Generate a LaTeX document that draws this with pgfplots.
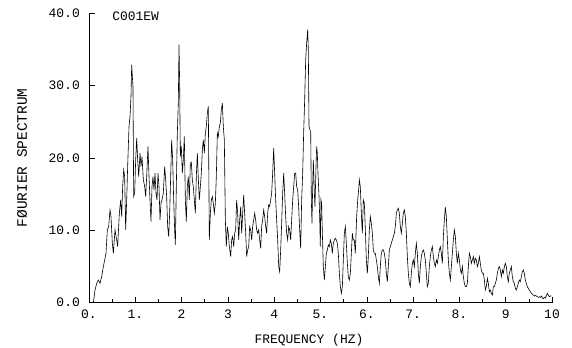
\documentclass[border=0pt]{standalone}
\usepackage{fontspec}
\setmainfont{Liberation Mono}
\usepackage{pgfplots}
\pgfplotsset{compat=1.18}
\begin{document}
\begin{tikzpicture}
\path[use as bounding box] (-89bp,-45.3bp) rectangle (483bp,302.7bp);
\begin{axis}[
  scale only axis,
  width=463bp, height=289.7bp,
  xmin=0, xmax=10, ymin=0, ymax=40,
  axis lines=left,
  axis line style={-, line width=0.7pt},
  x axis line style={line width=1.1pt},
  clip=false,
  tick align=inside,
  xtick={0,1,...,10},
  xticklabels={0.,1.,2,3,4,5.,6.,7.,8.,9,10},
  minor xtick={0.5,1.5,...,9.5},
  ytick={0,10,20,30,40},
  yticklabels={0.0,10.0,20.0,30.0,40.0},
  major tick length=6bp,
  minor tick length=4bp,
  tick style={line width=0.6pt, black},
  every tick label/.append style={font=\fontsize{13}{15}\selectfont},
  every x tick label/.append style={inner sep=0pt, yshift=-7bp},
  every y tick label/.append style={inner sep=0pt, xshift=-9bp},
  xlabel={FREQUENCY (HZ)},
  ylabel={FØURIER SPECTRUM},
  every axis x label/.style={at={(axis description cs:0.475,0)}, anchor=center, yshift=-37.5bp, font=\fontsize{13}{15}\selectfont},
  every axis y label/.style={at={(axis description cs:-0.1447,0.5)}, rotate=90, anchor=center, font=\fontsize{14.5}{16}\selectfont},
]
\addplot[black, line width=0.6pt] coordinates {
(0.094,0) (0.130,1.75) (0.166,2.67) (0.202,3.13) (0.238,2.67) (0.274,3.59) (0.310,4.98) (0.367,6.82) (0.396,10.05) (0.425,10.51)
(0.454,12.81) (0.475,11.89) (0.504,8.20) (0.526,6.82) (0.562,10.05) (0.598,8.66) (0.619,7.74) (0.655,12.35) (0.684,14.19) (0.706,11.89)
(0.727,16.04) (0.749,18.34) (0.770,17.42) (0.792,10.05) (0.814,14.19) (0.835,18.80) (0.864,24.33) (0.886,25.71) (0.907,28.48) (0.922,32.86)
(0.936,31.24) (0.950,29.86) (0.965,14.65) (0.986,15.12) (1.008,19.72) (1.030,22.72) (1.051,19.72) (1.073,17.42) (1.102,20.65) (1.123,18.80)
(1.145,20.18) (1.174,16.96) (1.202,16.04) (1.224,14.65) (1.246,17.42) (1.274,21.57) (1.296,17.42) (1.318,14.19) (1.339,11.20) (1.361,16.04)
(1.382,17.42) (1.404,15.58) (1.426,17.88) (1.447,15.12) (1.469,14.19) (1.490,17.88) (1.512,16.04) (1.534,11.43) (1.555,13.73) (1.577,14.19)
(1.605,15.12) (1.634,18.80) (1.656,16.96) (1.677,14.65) (1.699,10.51) (1.721,9.12) (1.742,12.35) (1.764,17.42) (1.785,22.49) (1.807,19.72)
(1.829,14.19) (1.850,10.05) (1.865,7.97) (1.886,16.04) (1.908,23.41) (1.929,27.56) (1.944,35.62) (1.958,30.32) (1.973,20.18) (1.994,21.57)
(2.016,17.88) (2.037,19.72) (2.059,22.95) (2.081,14.19) (2.102,11.20) (2.124,16.04) (2.145,17.42) (2.167,14.19) (2.189,19.26) (2.210,19.40)
(2.232,16.96) (2.253,16.04) (2.275,14.19) (2.297,12.35) (2.318,17.42) (2.340,20.65) (2.362,16.96) (2.383,14.19) (2.405,16.04) (2.426,17.88)
(2.448,21.11) (2.469,22.49) (2.491,20.65) (2.513,23.41) (2.534,24.33) (2.556,26.18) (2.577,27.10) (2.599,8.66) (2.621,12.35) (2.642,14.19)
(2.664,14.65) (2.685,13.73) (2.707,12.35) (2.729,13.73) (2.750,17.42) (2.772,23.41) (2.793,22.95) (2.815,24.33) (2.837,24.79) (2.858,26.64)
(2.880,27.56) (2.901,24.33) (2.923,22.49) (2.945,11.43) (2.966,7.74) (2.988,10.51) (3.009,9.59) (3.031,7.74) (3.060,6.36) (3.081,8.66)
(3.103,9.12) (3.125,7.74) (3.146,9.59) (3.168,10.05) (3.189,14.19) (3.211,12.35) (3.233,8.66) (3.254,11.43) (3.276,13.27) (3.297,9.59)
(3.319,12.35) (3.341,14.88) (3.362,12.35) (3.384,9.59) (3.405,6.36) (3.427,7.28) (3.449,7.74) (3.470,10.51) (3.492,10.05) (3.513,8.66)
(3.535,10.51) (3.557,11.43) (3.578,12.35) (3.600,11.43) (3.621,10.05) (3.643,9.59) (3.665,10.05) (3.686,8.66) (3.708,7.51) (3.729,10.51)
(3.751,11.43) (3.773,12.81) (3.794,11.89) (3.816,10.51) (3.837,9.59) (3.859,12.35) (3.881,13.50) (3.902,13.27) (3.924,14.19) (3.945,15.12)
(3.967,17.88) (3.989,21.34) (4.010,17.88) (4.032,14.19) (4.053,11.43) (4.075,8.66) (4.097,4.98) (4.118,4.29) (4.140,7.28) (4.161,10.97)
(4.183,15.12) (4.205,17.88) (4.226,15.12) (4.248,11.89) (4.269,9.59) (4.291,8.66) (4.313,10.51) (4.334,10.05) (4.356,8.66) (4.377,11.43)
(4.399,14.19) (4.421,16.04) (4.442,17.88) (4.464,17.88) (4.485,16.04) (4.507,15.58) (4.528,13.27) (4.550,10.05) (4.572,7.51) (4.593,14.19)
(4.615,17.88) (4.636,23.41) (4.658,28.02) (4.680,33.55) (4.701,35.85) (4.723,37.70) (4.737,34.93) (4.752,24.33) (4.773,23.87) (4.788,23.64)
(4.802,14.19) (4.816,10.97) (4.831,16.04) (4.845,19.72) (4.867,15.12) (4.881,13.27) (4.903,18.80) (4.917,21.57) (4.931,20.65) (4.946,17.88)
(4.968,14.65) (4.982,11.89) (4.996,7.74) (5.011,14.19) (5.025,13.73) (5.040,9.59) (5.061,4.98) (5.083,3.13) (5.105,4.98) (5.126,6.82)
(5.148,7.28) (5.169,7.97) (5.191,7.74) (5.212,8.66) (5.234,8.20) (5.256,6.82) (5.277,8.20) (5.299,8.66) (5.321,8.89) (5.342,8.66)
(5.364,8.20) (5.385,6.82) (5.407,4.06) (5.429,2.21) (5.450,1.29) (5.472,2.21) (5.493,5.90) (5.515,9.59) (5.537,10.51) (5.558,8.20)
(5.580,5.44) (5.601,3.59) (5.623,3.13) (5.645,4.06) (5.666,6.82) (5.688,9.59) (5.709,8.66) (5.731,8.66) (5.752,6.82) (5.781,11.89)
(5.803,14.19) (5.824,15.58) (5.839,16.96) (5.860,16.04) (5.882,12.35) (5.904,9.59) (5.925,14.19) (5.947,13.73) (5.969,10.05) (5.990,5.90)
(6.012,4.06) (6.033,6.36) (6.055,10.05) (6.076,11.89) (6.098,10.97) (6.120,9.59) (6.141,7.28) (6.163,6.82) (6.184,6.82) (6.206,5.90)
(6.228,4.98) (6.249,3.59) (6.271,2.67) (6.292,4.98) (6.314,6.82) (6.336,7.28) (6.357,7.28) (6.379,6.82) (6.400,5.90) (6.422,4.06)
(6.444,2.90) (6.465,4.98) (6.487,7.28) (6.508,7.74) (6.530,8.20) (6.552,8.66) (6.573,9.12) (6.595,9.59) (6.616,10.51) (6.638,12.35)
(6.660,12.81) (6.681,13.04) (6.703,12.35) (6.724,10.51) (6.746,9.59) (6.768,10.97) (6.789,12.35) (6.811,12.81) (6.832,11.89) (6.854,9.59)
(6.876,6.36) (6.897,4.06) (6.919,2.67) (6.940,2.21) (6.962,4.06) (6.984,5.44) (7.005,5.90) (7.027,4.98) (7.048,6.82) (7.070,8.20)
(7.092,6.82) (7.113,4.06) (7.135,2.67) (7.156,4.98) (7.178,6.36) (7.200,7.05) (7.221,7.28) (7.243,6.82) (7.264,5.90) (7.286,4.06)
(7.307,2.21) (7.329,2.67) (7.351,4.98) (7.372,6.36) (7.394,7.28) (7.416,7.74) (7.437,6.36) (7.459,5.44) (7.480,4.98) (7.502,5.90)
(7.524,5.44) (7.545,6.36) (7.567,7.28) (7.588,7.74) (7.610,6.82) (7.632,5.44) (7.653,9.12) (7.675,11.43) (7.696,13.18) (7.718,11.89)
(7.740,8.66) (7.761,5.90) (7.783,4.06) (7.805,3.13) (7.826,4.98) (7.848,6.82) (7.869,8.66) (7.891,10.05) (7.913,9.12) (7.934,6.82)
(7.956,5.44) (7.977,6.82) (7.999,5.90) (8.021,4.52) (8.042,4.06) (8.064,4.98) (8.085,3.59) (8.107,2.67) (8.128,2.21) (8.150,2.21)
(8.172,2.67) (8.193,4.98) (8.215,6.82) (8.236,6.36) (8.258,5.44) (8.280,5.90) (8.301,6.36) (8.323,5.44) (8.344,6.13) (8.366,5.90)
(8.388,4.98) (8.409,5.44) (8.431,6.36) (8.452,5.44) (8.474,4.52) (8.496,4.06) (8.517,4.06) (8.539,3.13) (8.560,1.75) (8.582,2.21)
(8.604,3.36) (8.625,2.67) (8.647,1.52) (8.668,1.75) (8.690,1.29) (8.712,1.06) (8.733,2.21) (8.755,2.21) (8.776,2.67) (8.798,3.13)
(8.820,4.06) (8.841,4.75) (8.863,4.98) (8.884,4.52) (8.906,3.59) (8.928,4.52) (8.949,4.06) (8.971,4.98) (8.992,5.44) (9.014,4.98)
(9.035,3.59) (9.057,2.90) (9.078,4.06) (9.100,4.52) (9.122,4.98) (9.143,3.59) (9.165,2.90) (9.186,2.67) (9.208,1.98) (9.230,1.75)
(9.251,2.21) (9.273,2.67) (9.294,3.13) (9.316,2.90) (9.338,3.59) (9.359,4.29) (9.381,4.52) (9.402,4.06) (9.424,3.13) (9.446,2.67)
(9.467,2.21) (9.489,1.98) (9.510,1.75) (9.532,1.52) (9.553,1.29) (9.575,1.20) (9.597,1.06) (9.618,0.92) (9.640,1.01) (9.661,0.92)
(9.683,0.83) (9.705,0.74) (9.726,0.83) (9.748,0.74) (9.769,0.92) (9.791,0.65) (9.813,0.55) (9.834,0.74) (9.856,0.65) (9.877,0.92)
(9.899,1.29) (9.921,1.06) (9.942,0.83) (9.964,0.92) (9.986,0.92)
};
\node[anchor=west, inner sep=0pt, font=\fontsize{13}{15}\selectfont] at (axis cs:0.5,39.6) {C001EW};
\end{axis}
\end{tikzpicture}
\end{document}
